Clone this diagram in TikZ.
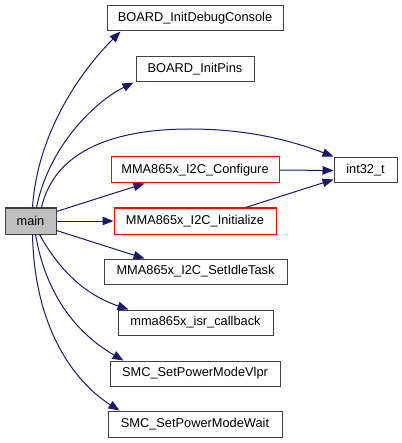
\documentclass[tikz,border=0pt]{standalone}
\usepackage{fontspec}
\setmainfont{Liberation Sans}
\usetikzlibrary{arrows.meta}
\definecolor{edgeblue}{HTML}{191970}
\definecolor{boxgray}{HTML}{404040}
\definecolor{mainfill}{HTML}{BFBFBF}
\tikzset{
  fnbox/.style={draw=boxgray, line width=1pt, fill=white, inner sep=0pt, minimum height=25pt, font=\fontsize{12.8pt}{14pt}\selectfont},
  redbox/.style={fnbox, draw=red},
  mainbox/.style={fnbox, fill=mainfill},
  callarrow/.style={draw=edgeblue, line width=1pt, -{Triangle[length=11pt,width=8.5pt]}}
}
\begin{document}
\begin{tikzpicture}[x=1pt,y=-1pt]
\useasboundingbox (0,0) rectangle (401,443);
\node[fnbox, minimum width=176pt] (dbg) at (195,18.5) {BOARD\_InitDebugConsole};
\node[fnbox, minimum width=118pt] (pins) at (195,69.5) {BOARD\_InitPins};
\node[fnbox, minimum width=63pt] (int) at (365.5,170.5) {int32\_t};
\node[redbox, minimum width=168pt, minimum height=26pt] (cfg) at (195,170) {MMA865x\_I2C\_Configure};
\node[mainbox, minimum width=51pt, minimum height=26pt] (main) at (30.5,221) {main};
\node[redbox, minimum width=162pt, minimum height=26pt] (ini) at (195,221) {MMA865x\_I2C\_Initialize};
\node[fnbox, minimum width=183pt] (idle) at (195.5,271.5) {MMA865x\_I2C\_SetIdleTask};
\node[fnbox, minimum width=155pt] (isr) at (195.5,322.5) {mma865x\_isr\_callback};
\node[fnbox, minimum width=170pt] (vlpr) at (195,373.5) {SMC\_SetPowerModeVlpr};
\node[fnbox, minimum width=174pt, minimum height=26pt] (wait) at (195,424) {SMC\_SetPowerModeWait};

\path[callarrow] ([xshift=28pt]main.north west) .. controls +(5,-75) and +(-40,40) .. ([xshift=14pt]dbg.south west);
\path[callarrow] ([xshift=32pt]main.north west) .. controls +(12,-60) and +(-40,20) .. ([xshift=-2pt]pins.south west);
\path[callarrow] ([xshift=37pt]main.north west) .. controls +(15,-65) and +(-60,0) .. (190,129) .. controls +(60,0) and +(-40,-15) .. ([yshift=1pt]int.north west);
\path[callarrow] ([yshift=-4pt]main.north east) -- ([xshift=34pt]cfg.south west);
\path[callarrow] (main.east) -- (ini.west);
\path[callarrow] ([yshift=4pt]main.south east) -- ([xshift=41pt]idle.north west);
\path[callarrow] ([xshift=35pt]main.south west) .. controls +(25,45) and +(-35,-12) .. ([xshift=11pt]isr.north west);
\path[callarrow] ([xshift=31pt]main.south west) .. controls +(12,70) and +(-38,-22) .. ([xshift=14pt]vlpr.north west);
\path[callarrow] ([xshift=28pt]main.south west) .. controls +(2,100) and +(-40,-25) .. ([xshift=12pt]wait.north west);
\path[callarrow] (cfg.east) -- (int.west);
\path[callarrow] ([xshift=-31pt]ini.north east) -- ([yshift=-9pt]int.west);
\end{tikzpicture}
\end{document}
